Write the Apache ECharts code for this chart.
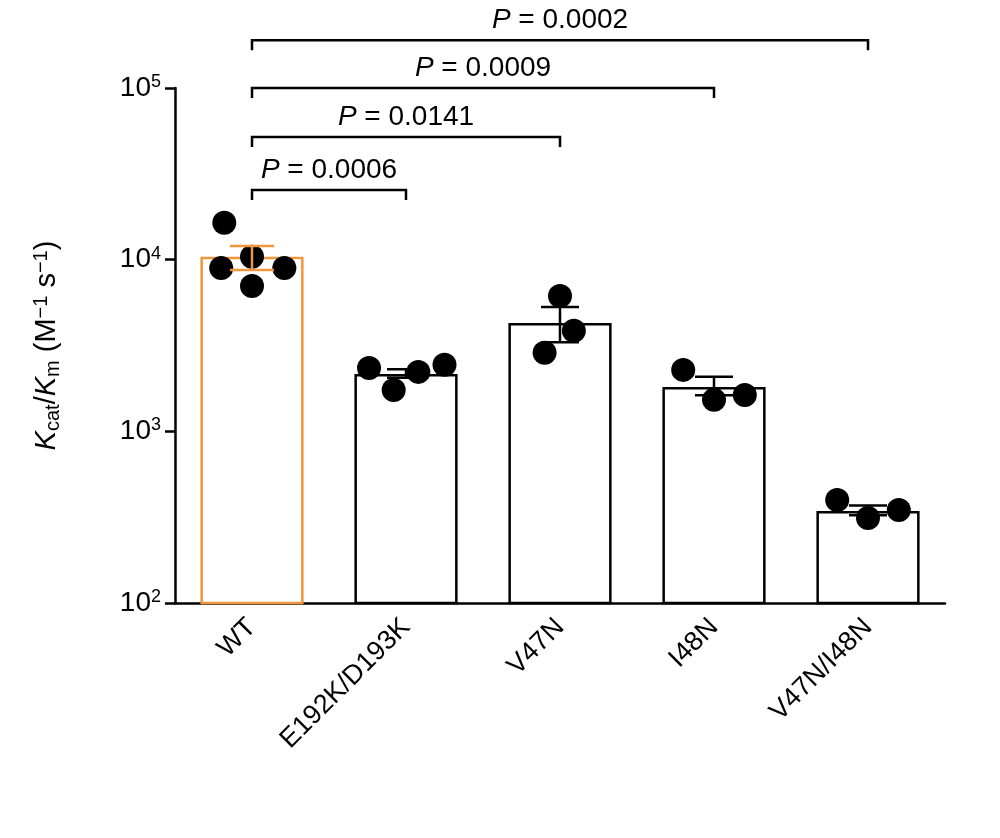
<!DOCTYPE html>
<html><head><meta charset="utf-8">
<script src="https://cdn.jsdelivr.net/npm/echarts@6/dist/echarts.min.js"></script>
<style>html,body{margin:0;background:#fff}#c{width:1000px;height:838px}</style>
</head><body><div id="c"></div>
<script>
const categories = ['WT','E192K/D193K','V47N','I48N','V47N/I48N'];
const means = [10400, 2160, 4280, 1815, 344];
const errLow = [8700, 2050, 3300, 1620, 325];
const errHigh = [12000, 2300, 5300, 2080, 370];
const points = [
  [16400, 8950, 10400, 8950, 7030],
  [2340, 1740, 2220, 2440],
  [6150, 3850, 2870],
  [2280, 1525, 1630],
  [398, 313, 348]
];
const jitter = [
  [-0.18, -0.2, 0, 0.21, 0],
  [-0.24, -0.08, 0.08, 0.25],
  [0, 0.09, -0.1],
  [-0.2, 0, 0.2],
  [-0.2, 0, 0.2]
];
const comparisons = [[0,1,25500,'0.0006'],[0,2,51900,'0.0141'],[0,3,100000,'0.0009'],[0,4,190000,'0.0002']];
const yTicks = {100:'2',1000:'3',10000:'4',100000:'5'};

const orange = '#f0963c';
const font = 'Liberation Sans, Arial, sans-serif';
const scatterData = [];
points.forEach((arr,i)=>arr.forEach((v,j)=>scatterData.push([i+0.5+jitter[i][j], v])));

const chart = echarts.init(document.getElementById('c'));
chart.setOption({
  animation:false,
  grid:{left:175,right:55,top:88,bottom:235},
  xAxis:[{type:'category',data:categories,
    axisLine:{lineStyle:{color:'#000',width:2.5}},
    axisTick:{alignWithLabel:true,length:10,lineStyle:{color:'#000',width:2.5}},
    axisLabel:{rotate:45,fontSize:27,color:'#000',fontFamily:font,margin:20,interval:0}},
    {type:'value',min:0,max:5,show:false}],
  yAxis:{type:'log',min:100,max:100000,logBase:10,
    axisLine:{show:true,lineStyle:{color:'#000',width:2.5}},
    axisTick:{show:true,length:10,lineStyle:{color:'#000',width:2.5}},
    splitLine:{show:false},
    minorTick:{show:false},
    axisLabel:{color:'#000',fontFamily:font,margin:14,
      formatter:v=>yTicks[Math.round(v)]?'{b|10}{s|'+yTicks[Math.round(v)]+'}':'',
      rich:{b:{fontSize:28,fontFamily:font,color:'#000'},s:{fontSize:18,fontFamily:font,color:'#000',verticalAlign:'top',padding:[0,0,12,0]}}},
    name:'{i|K}{sub|cat}{n|/}{i|K}{sub|m}{n| (M}{sup|−1}{n| s}{sup|−1}{n|)}',
    nameLocation:'middle',nameGap:112,nameRotate:90,
    nameTextStyle:{rich:{
      i:{fontSize:29,fontStyle:'italic',fontFamily:font,color:'#000'},
      n:{fontSize:29,fontFamily:font,color:'#000'},
      sub:{fontSize:20,fontFamily:font,color:'#000',verticalAlign:'bottom',padding:[12,0,0,0]},
      sup:{fontSize:20,fontFamily:font,color:'#000',verticalAlign:'top',padding:[0,0,12,0]}}}},
  series:[
    {type:'bar',barWidth:'67%',data:means.map((v,i)=>({value:v,itemStyle:{color:'#fff',borderColor:i===0?orange:'#000',borderWidth:2.5}}))},
    {type:'scatter',xAxisIndex:1,symbolSize:24,itemStyle:{color:'#000',opacity:1},data:scatterData,z:3},
    {type:'custom',xAxisIndex:1,z:4,data:means.map((m,i)=>[i+0.5,errLow[i],errHigh[i],m]),
      renderItem:(p,api)=>{
        const x=api.value(0);const lo=api.coord([x,api.value(1)]);const hi=api.coord([x,api.value(2)]);
        const c=p.dataIndex===0?orange:'#000';const w=p.dataIndex===0?22:19;
        const st={stroke:c,lineWidth:2.5};
        return {type:'group',children:[
          {type:'line',shape:{x1:lo[0],y1:lo[1],x2:hi[0],y2:hi[1]},style:st},
          {type:'line',shape:{x1:lo[0]-w,y1:lo[1],x2:lo[0]+w,y2:lo[1]},style:st},
          {type:'line',shape:{x1:hi[0]-w,y1:hi[1],x2:hi[0]+w,y2:hi[1]},style:st}]};
      }},
    {type:'custom',xAxisIndex:1,clip:false,z:5,data:comparisons.map(c=>[c[0]+0.5,c[1]+0.5,c[2],c[3]]),
      renderItem:(p,api)=>{
        const a=api.coord([api.value(0),api.value(2)]);const b=api.coord([api.value(1),api.value(2)]);
        const lbl=comparisons[p.dataIndex][3];
        return {type:'group',children:[
          {type:'polyline',shape:{points:[[a[0],a[1]+10],[a[0],a[1]],[b[0],a[1]],[b[0],a[1]+10]]},style:{stroke:'#000',lineWidth:2.5,fill:null}},
          {type:'text',x:(a[0]+b[0])/2,y:a[1]-6,style:{text:'{i|P}{n| = '+lbl+'}',align:'center',verticalAlign:'bottom',
            rich:{i:{fontSize:28,fontStyle:'italic',fontFamily:font,fill:'#000'},n:{fontSize:28,fontFamily:font,fill:'#000'}}}}]};
      }}
  ]
});
</script></body></html>
